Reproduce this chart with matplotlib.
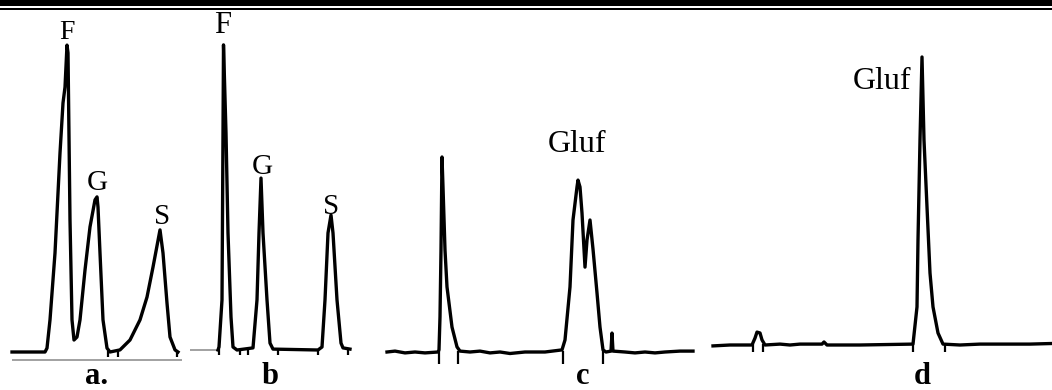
import matplotlib
matplotlib.use("Agg")
import matplotlib.pyplot as plt
from matplotlib.patches import Rectangle

plt.rcParams['font.family'] = ['Liberation Serif', 'DejaVu Serif']

# ---- chromatogram traces (time in min, response in arbitrary units) ----
time_a = [0.6, 2.25, 2.35, 2.5, 2.75, 3.0, 3.15, 3.25, 3.35, 3.4, 3.5, 3.6, 3.7, 3.85, 4.0,
          4.25, 4.5, 4.75, 4.85, 4.9, 5.0, 5.15, 5.35, 5.5, 6.0, 6.5, 7.0, 7.35, 7.65, 8.0,
          8.15, 8.35, 8.5, 8.75, 8.9]
resp_a = [0, 0, 1.3, 10.7, 33, 66.3, 83, 88.3, 102.3, 99.7, 44, 10.7, 4, 5, 10.7,
          27.3, 41.7, 50.7, 51.7, 48.3, 33, 10.7, 1.3, 0, 0.7, 4, 10.7, 18.3, 28.3, 40.7,
          33, 16.3, 5, 0.7, 0]
ticks_a = [5.4, 5.9, 8.85]

time_b = [1.4, 1.45, 1.6, 1.65, 1.675, 1.8, 1.9, 2.05, 2.15, 2.35, 3.15, 3.35, 3.45, 3.55,
          3.65, 3.85, 4.0, 4.15, 6.4, 6.6, 6.75, 6.9, 7.05, 7.15, 7.35, 7.55, 7.65, 8.0]
resp_b = [0, 1, 16.7, 72.3, 101.7, 72.3, 39, 11, 1, 0, 0.7, 16.7, 39, 57.3,
          39, 16.7, 2.3, 0.3, 0, 1, 16.7, 39, 45, 39, 16.7, 2.3, 0.7, 0.3]
ticks_b = [1.45, 2.5, 2.9, 4.4, 6.4, 7.9]

time_c = [0.1, 0.5, 1.0, 1.5, 2.0, 2.65, 2.7, 2.75, 2.8, 2.85, 2.9, 3.0, 3.1, 3.35, 3.6,
          3.75, 4.25, 4.75, 5.25, 5.75, 6.25, 7.0, 8.0, 8.85, 9.0, 9.25, 9.4, 9.6, 9.65,
          9.75, 9.85, 10.0, 10.1, 10.25, 10.4, 10.6, 10.75, 10.9, 11.05, 11.3, 11.35, 11.4,
          12.0, 12.5, 13.0, 13.5, 14.0, 14.75, 15.4]
resp_c = [0, 0.3, -0.3, 0, -0.3, 0, 0.7, 11.7, 34, 65, 55, 34, 21.7, 8.3, 1.7,
          0.3, 0, 0.3, -0.3, 0, -0.5, 0, 0, 0.7, 4, 21.7, 44, 55, 57.3,
          55, 46.3, 28.3, 37.3, 44, 34.3, 19.7, 8.3, 0.7, 0, 0.3, 6.3, 0.3,
          0, -0.3, 0, -0.3, 0, 0.3, 0.3]
ticks_c = [2.7, 3.65, 8.9, 10.9]

time_d = [0.65, 1.5, 2.6, 2.75, 2.85, 3.0, 3.1, 3.25, 4.0, 4.5, 5.0, 6.1, 6.2, 6.35, 8.0,
          10.65, 10.85, 10.9, 11.0, 11.1, 11.2, 11.35, 11.5, 11.65, 11.9, 12.15, 13.0,
          14.0, 15.0, 16.5, 17.6]
resp_d = [-0.3, 0, 0, 2.3, 4.3, 4, 1.7, 0, 0.3, 0, 0.3, 0.3, 1, 0, 0,
          0.3, 12.7, 35, 68.3, 96, 68.3, 46, 24, 12.7, 4, 0.3, 0,
          0.3, 0.3, 0.3, 0.5]
ticks_d = [2.65, 3.15, 10.65, 12.25]

# peak labels: (text, time, response)
labels_a = [("F", 3.35, 106.5), ("G", 4.85, 56.3), ("S", 8.1, 45)]
labels_b = [("F", 1.65, 108.3), ("G", 3.6, 61), ("S", 7.05, 47.7)]
labels_c = [("Gluf", 9.6, 69)]
labels_d = [("Gluf", 9.1, 87.7)]

panel_names = ["a.", "b", "c", "d"]
panel_name_x = [4.85, 4.0, 9.9, 11.1]

# ---- layout (figure pixels) ----
W, H = 1052, 390
PX_PER_MIN = 20.0
PX_PER_UNIT = 3.0

fig = plt.figure(figsize=(W / 100, H / 100), dpi=100)

# header rules
fig.add_artist(Rectangle((0, 1 - 6.0 / H), 1, 6.0 / H, transform=fig.transFigure,
                         color="black", lw=0))
fig.add_artist(Rectangle((0, 1 - 9.5 / H), 1, 2.0 / H, transform=fig.transFigure,
                         color="black", lw=0))

panels = [
    dict(x0=0, x1=190, base=352, t=time_a, r=resp_a, ticks=ticks_a, tick_bot=357,
         labels=labels_a, axis=(360, 0.6, 9.1), fs=[20, 21, 21]),
    dict(x0=190, x1=385, base=350, t=time_b, r=resp_b, ticks=ticks_b, tick_bot=355,
         labels=labels_b, axis=(350, 0.0, 1.45), fs=[22, 21, 21]),
    dict(x0=385, x1=700, base=352, t=time_c, r=resp_c, ticks=ticks_c, tick_bot=364,
         labels=labels_c, axis=None, fs=[23]),
    dict(x0=700, x1=1052, base=345, t=time_d, r=resp_d, ticks=ticks_d, tick_bot=352,
         labels=labels_d, axis=None, fs=[23]),
]

top_px, bot_px = 12, 390
for i, p in enumerate(panels):
    ax = fig.add_axes([p["x0"] / W, 0, (p["x1"] - p["x0"]) / W, (bot_px - top_px) / H])
    ax.set_xlim(0, (p["x1"] - p["x0"]) / PX_PER_MIN)
    ax.set_ylim((p["base"] - bot_px) / PX_PER_UNIT, (p["base"] - top_px) / PX_PER_UNIT)
    ax.axis("off")
    if p["axis"] is not None:
        ly, lx0, lx1 = p["axis"]
        yv = (p["base"] - ly) / PX_PER_UNIT
        ax.plot([lx0, lx1], [yv, yv], color="#9a9a9a", lw=1.3, solid_capstyle="butt")
    ax.plot(p["t"], p["r"], color="black", lw=2.4, solid_joinstyle="round")
    tb = (p["base"] - p["tick_bot"]) / PX_PER_UNIT
    ax.vlines(p["ticks"], tb, 0.5, color="black", lw=1.6)
    for (txt, tx, ty), fs in zip(p["labels"], p["fs"]):
        ax.text(tx, ty, txt, ha="center", va="center", fontsize=fs)
    ax.text(panel_name_x[i], (p["base"] - 377) / PX_PER_UNIT, panel_names[i],
            ha="center", va="center", fontsize=22, fontweight="bold")

fig.savefig("out.png", dpi=100)
